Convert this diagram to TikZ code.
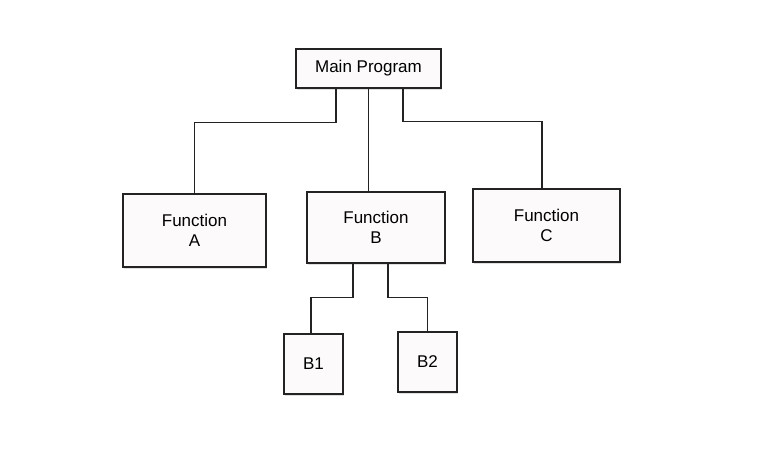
\documentclass[tikz,border=0pt]{standalone}
\usepackage{fontspec}
\setmainfont{Liberation Sans}
\usepackage{xcolor}
\usepackage{tikz}
\usetikzlibrary{positioning, calc, shadows}
\definecolor{myink}{RGB}{35,35,35}
\definecolor{mypaper}{RGB}{252,250,251}
\tikzset{
  modbox/.style={rectangle, draw=myink, fill=mypaper, line width=1.3pt,
    inner sep=0pt, align=center, font=\fontsize{17}{20.5}\selectfont,
    drop shadow={opacity=0.25, shadow xshift=1pt, shadow yshift=-2pt}},
  link/.style={draw=myink, line width=1.1pt}
}

\begin{document}
\begin{tikzpicture}[x=1pt, y=1pt]
  \useasboundingbox (0,0) rectangle (784,-449);

  % main program and the three functions
  \node[modbox, minimum width=145pt, minimum height=39pt] (prog) at (368.5,-68.5) {Main Program};
  \node[modbox, minimum width=143pt, minimum height=73pt] (funA) at (194.5,-230.5) {Function\\A};
  \node[modbox, minimum width=138pt, minimum height=71pt] (funB) at (376,-227.5) {Function\\B};
  \node[modbox, minimum width=147pt, minimum height=73pt] (funC) at (546.5,-225.5) {Function\\C};

  % sub-functions of B
  \node[modbox, minimum width=59pt, minimum height=60pt] (subBa) at (313.5,-364) {B1};
  \node[modbox, minimum width=59pt, minimum height=60pt] (subBb) at (427.5,-362) {B2};

  % connectors from main program
  \draw[link] ([xshift=-32.5pt]prog.south) -- ++(0,-34) -| (funA.north);
  \draw[link] (prog.south) -- (prog.south |- funB.north);
  \draw[link] ([xshift=34.5pt]prog.south) -- ++(0,-33) -| ([xshift=-4.5pt]funC.north);

  % connectors from function B
  \draw[link] ([xshift=-23pt]funB.south) -- ++(0,-34) -| ([xshift=-2.5pt]subBa.north);
  \draw[link] ([xshift=12pt]funB.south) -- ++(0,-34) -| (subBb.north);
\end{tikzpicture}
\end{document}
